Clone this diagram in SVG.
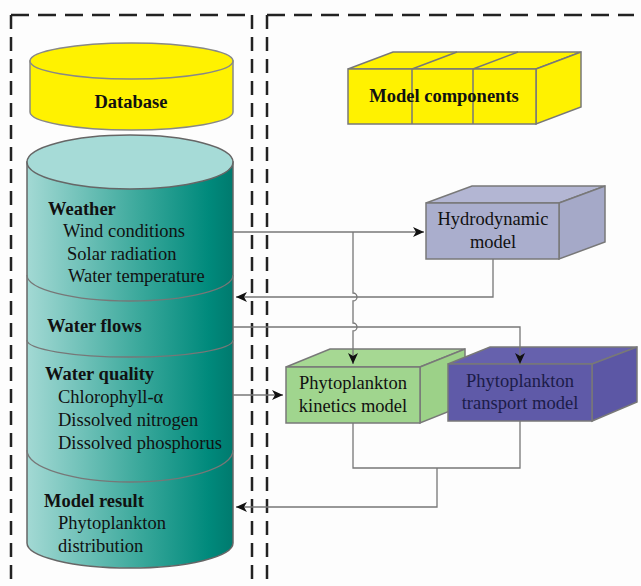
<svg xmlns="http://www.w3.org/2000/svg" width="641" height="586" viewBox="0 0 641 586">
<defs>
<linearGradient id="teal" x1="27" y1="0" x2="233" y2="0" gradientUnits="userSpaceOnUse">
<stop offset="0" stop-color="#a3d9d4"/>
<stop offset="0.55" stop-color="#3aa89b"/>
<stop offset="0.88" stop-color="#008a7c"/>
<stop offset="1" stop-color="#007a6e"/>
</linearGradient>
<marker id="ah" markerUnits="userSpaceOnUse" markerWidth="12" markerHeight="10" refX="11" refY="5" orient="auto">
<path d="M0,0 L11,5 L0,10 L3,5 Z" fill="#111"/>
</marker>
</defs>
<style>
.dh{fill:none;stroke:#222;stroke-width:2.5;stroke-dasharray:18 9}
.dv{fill:none;stroke:#222;stroke-width:2.5;stroke-dasharray:14 8}
.t{font-family:"Liberation Serif","Times New Roman",serif;font-size:18.5px;fill:#111}
.b{font-weight:bold}
.c{text-anchor:middle}
.cyl{stroke:#666;stroke-width:1.5}
.edge{stroke:#787878;stroke-width:1.5}
.con{fill:none;stroke:#777;stroke-width:1.3}
</style>
<rect width="641" height="586" fill="#fdfdfd"/>
<g id="frames">
<path class="dh" d="M11,15 H252"/>
<path class="dv" d="M11,15 V586"/>
<path class="dv" d="M252,15 V586"/>
<path class="dh" d="M267,15 H634"/>
<path class="dv" d="M267,15 V586"/>
</g>
<g id="database">
<path d="M30,61 V112 A101.5,18 0 0 0 233,112 V61 Z" fill="#fff200" stroke="#888" stroke-width="1.5"/>
<ellipse cx="131.5" cy="61" rx="101.5" ry="18" fill="#fff200" stroke="#888" stroke-width="1.5"/>
<text class="t b c" x="131" y="108">Database</text>
</g>
<g id="datastore">
<path class="cyl" d="M27,162 V543 A103,25 0 0 0 233,543 V162 Z" fill="url(#teal)"/>
<ellipse class="cyl" cx="130" cy="162" rx="103" ry="27" fill="#a6dbd7"/>
<path class="con" d="M27,275 A103,26 0 0 0 233,275" stroke="#5d7f7c" stroke-width="1.5"/>
<path class="con" d="M27,340 A103,17 0 0 0 233,340" stroke="#5d7f7c" stroke-width="1.5"/>
<path class="con" d="M27,450 A103,32 0 0 0 233,450" stroke="#5d7f7c" stroke-width="1.5"/>
<text class="t b" x="48" y="215">Weather</text>
<text class="t" x="63" y="237">Wind conditions</text>
<text class="t" x="67" y="260">Solar radiation</text>
<text class="t" x="68" y="282">Water temperature</text>
<text class="t b" x="47" y="332">Water flows</text>
<text class="t b" x="45" y="380">Water quality</text>
<text class="t" x="58" y="403">Chlorophyll-α</text>
<text class="t" x="58" y="426">Dissolved nitrogen</text>
<text class="t" x="58" y="449">Dissolved phosphorus</text>
<text class="t b" x="44" y="507">Model result</text>
<text class="t" x="58" y="529">Phytoplankton</text>
<text class="t" x="58" y="552">distribution</text>
</g>
<g id="model-components">
<polygon class="edge" points="348,69 393,52 581,52 536,69" fill="#fff200"/>
<polygon class="edge" points="536,69 581,52 581,107 536,124" fill="#fff200"/>
<rect class="edge" x="348" y="69" width="188" height="55" fill="#fff200"/>
<path class="edge" d="M412,69 V124 M473,69 V124 M412,69 L457,52 M473,69 L518,52" fill="none"/>
<text class="t b c" x="444" y="102">Model components</text>
</g>
<g id="hydrodynamic">
<polygon class="edge" points="426,203 472,186 605,186 559,203" fill="#b3b6d3"/>
<polygon class="edge" points="559,203 605,186 605,242 559,259" fill="#a5a9c8"/>
<rect class="edge" x="426" y="203" width="133" height="56" fill="#aaaecd"/>
<text class="t c" x="493" y="225" fill="#2a2a3e">Hydrodynamic</text>
<text class="t c" x="493" y="248">model</text>
</g>
<g id="kinetics">
<polygon class="edge" points="286,367 330,349 465,349 420,367" fill="#a6d893"/>
<polygon class="edge" points="420,367 465,349 465,405 420,423" fill="#9cd188"/>
<rect class="edge" x="286" y="367" width="134" height="56" fill="#a0d58e"/>
<text class="t c" x="353" y="389">Phytoplankton</text>
<text class="t c" x="353" y="412">kinetics model</text>
</g>
<g id="transport">
<polygon class="edge" points="448,364 490,347 637,347 592,364" fill="#6661ad"/>
<polygon class="edge" points="592,364 637,347 637,402 592,421" fill="#5c57a5"/>
<rect class="edge" x="448" y="364" width="144" height="57" fill="#5f5aa8"/>
<text class="t c" x="520" y="387" style="fill:#1c1c48">Phytoplankton</text>
<text class="t c" x="520" y="409" style="fill:#1c1c48">transport model</text>
</g>
<g id="connectors">
<path class="con" d="M233,232 H424" marker-end="url(#ah)"/>
<path class="con" d="M353,232 V293 A4,4 0 0 1 353,301 V323 A4,4 0 0 1 353,331 V364" marker-end="url(#ah)"/>
<path class="con" d="M493,259 V297 H236" marker-end="url(#ah)"/>
<path class="con" d="M233,327 H520 V364" marker-end="url(#ah)"/>
<path class="con" d="M233,395 H283" marker-end="url(#ah)"/>
<path class="con" d="M353,423 V468 H520 V421"/>
<path class="con" d="M437,468 V507 H236" marker-end="url(#ah)"/>
</g>
</svg>
